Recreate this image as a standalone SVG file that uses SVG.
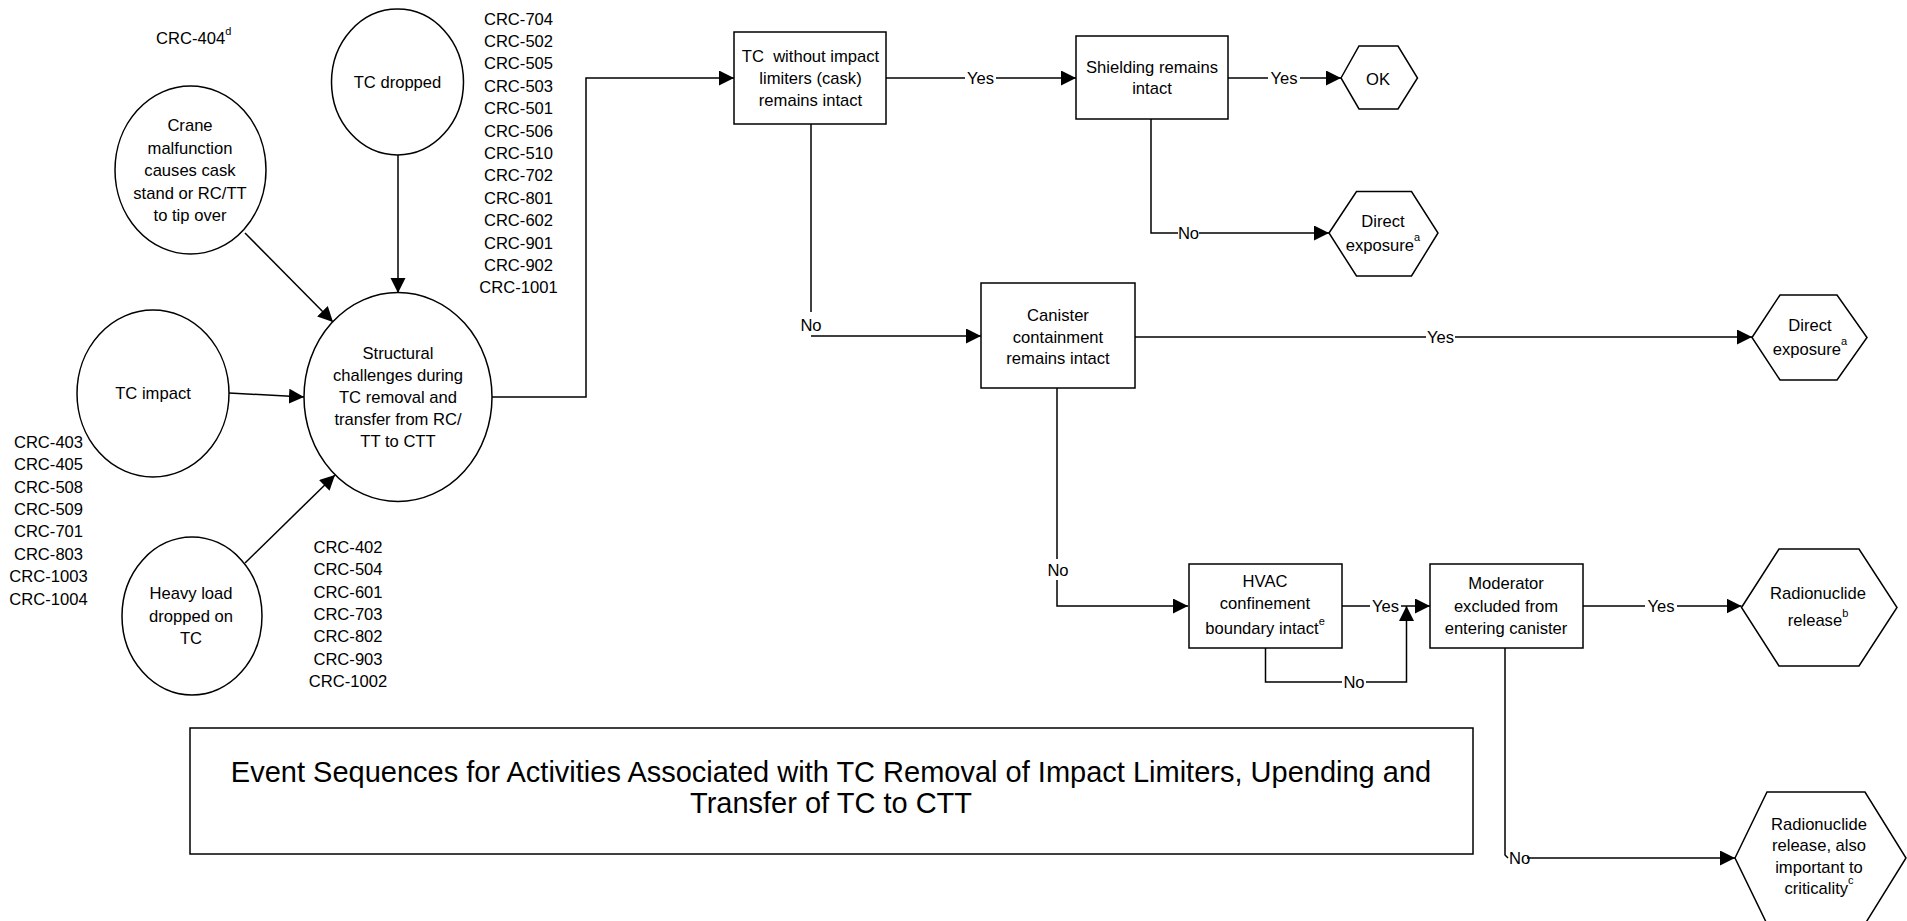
<svg xmlns="http://www.w3.org/2000/svg" width="1907" height="921" viewBox="0 0 1907 921">
  <style>
    text { font-family: "Liberation Sans", Arial, sans-serif; font-size: 16.6px; fill: #000; }
    .c { text-anchor: middle; }
    .sup { font-size: 11px; }
    .shape { fill: #fff; stroke: #000; stroke-width: 1.5; }
    .ln { fill: none; stroke: #000; stroke-width: 1.5; }
    .title { font-size: 29px; }
  </style>
  <defs>
    <marker id="arrow" markerUnits="userSpaceOnUse" markerWidth="16" markerHeight="16" refX="15" refY="7.5" orient="auto">
      <path d="M0,0 L15,7.5 L0,15 z" fill="#000"/>
    </marker>
  </defs>
  <rect width="1907" height="921" fill="#fff"/>

  <!-- reference lists -->
  <g id="crc-lists">
    <text x="156" y="44">CRC-404<tspan class="sup" dy="-9">d</tspan></text>

    <text class="c" x="518.5" y="24.5">CRC-704</text>
    <text class="c" x="518.5" y="46.9">CRC-502</text>
    <text class="c" x="518.5" y="69.3">CRC-505</text>
    <text class="c" x="518.5" y="91.7">CRC-503</text>
    <text class="c" x="518.5" y="114.1">CRC-501</text>
    <text class="c" x="518.5" y="136.5">CRC-506</text>
    <text class="c" x="518.5" y="158.9">CRC-510</text>
    <text class="c" x="518.5" y="181.3">CRC-702</text>
    <text class="c" x="518.5" y="203.7">CRC-801</text>
    <text class="c" x="518.5" y="226.1">CRC-602</text>
    <text class="c" x="518.5" y="248.5">CRC-901</text>
    <text class="c" x="518.5" y="270.9">CRC-902</text>
    <text class="c" x="518.5" y="293.3">CRC-1001</text>

    <text class="c" x="48.5" y="447.7">CRC-403</text>
    <text class="c" x="48.5" y="470.1">CRC-405</text>
    <text class="c" x="48.5" y="492.5">CRC-508</text>
    <text class="c" x="48.5" y="514.9">CRC-509</text>
    <text class="c" x="48.5" y="537.3">CRC-701</text>
    <text class="c" x="48.5" y="559.7">CRC-803</text>
    <text class="c" x="48.5" y="582.1">CRC-1003</text>
    <text class="c" x="48.5" y="604.5">CRC-1004</text>

    <text class="c" x="348" y="552.7">CRC-402</text>
    <text class="c" x="348" y="575.1">CRC-504</text>
    <text class="c" x="348" y="597.5">CRC-601</text>
    <text class="c" x="348" y="619.9">CRC-703</text>
    <text class="c" x="348" y="642.3">CRC-802</text>
    <text class="c" x="348" y="664.7">CRC-903</text>
    <text class="c" x="348" y="687.1">CRC-1002</text>
  </g>

  <!-- connectors -->
  <g id="connectors">
    <line class="ln" x1="245" y1="233" x2="333" y2="322" marker-end="url(#arrow)"/>
    <line class="ln" x1="398" y1="155" x2="398" y2="293" marker-end="url(#arrow)"/>
    <line class="ln" x1="229" y1="393" x2="304" y2="397" marker-end="url(#arrow)"/>
    <line class="ln" x1="245" y1="563" x2="335" y2="475" marker-end="url(#arrow)"/>
    <polyline class="ln" points="492,397 586,397 586,78 734,78" marker-end="url(#arrow)"/>

    <!-- cask intact -->
    <line class="ln" x1="886" y1="78" x2="965" y2="78"/>
    <text class="c" x="980.5" y="84">Yes</text>
    <line class="ln" x1="996" y1="78" x2="1076" y2="78" marker-end="url(#arrow)"/>
    <line class="ln" x1="811" y1="124" x2="811" y2="312"/>
    <text class="c" x="811" y="331">No</text>
    <line class="ln" x1="811" y1="336" x2="981" y2="336" marker-end="url(#arrow)"/>

    <!-- shielding -->
    <line class="ln" x1="1228" y1="78" x2="1268" y2="78"/>
    <text class="c" x="1284" y="84">Yes</text>
    <line class="ln" x1="1300" y1="78" x2="1341" y2="78" marker-end="url(#arrow)"/>
    <polyline class="ln" points="1151,119 1151,233 1178,233"/>
    <text class="c" x="1188.5" y="239">No</text>
    <line class="ln" x1="1199" y1="233" x2="1329" y2="233" marker-end="url(#arrow)"/>

    <!-- canister -->
    <line class="ln" x1="1135" y1="337" x2="1426" y2="337"/>
    <text class="c" x="1440.5" y="343">Yes</text>
    <line class="ln" x1="1455" y1="337" x2="1752" y2="337" marker-end="url(#arrow)"/>
    <line class="ln" x1="1057" y1="388" x2="1057" y2="559"/>
    <text class="c" x="1058" y="576">No</text>
    <polyline class="ln" points="1057,580 1057,606 1188,606" marker-end="url(#arrow)"/>

    <!-- HVAC -->
    <line class="ln" x1="1342" y1="606" x2="1370" y2="606"/>
    <text class="c" x="1385.5" y="612">Yes</text>
    <line class="ln" x1="1401" y1="606" x2="1430" y2="606" marker-end="url(#arrow)"/>
    <polyline class="ln" points="1265.5,648 1265.5,682 1342,682"/>
    <text class="c" x="1354" y="688">No</text>
    <polyline class="ln" points="1366,682 1406.5,682 1406.5,606" marker-end="url(#arrow)"/>

    <!-- moderator -->
    <line class="ln" x1="1583" y1="606" x2="1645" y2="606"/>
    <text class="c" x="1661" y="612">Yes</text>
    <line class="ln" x1="1677" y1="606" x2="1741.5" y2="606" marker-end="url(#arrow)"/>
    <polyline class="ln" points="1505,648 1505,855 1508,858"/>
    <text x="1509" y="864">No</text>
    <line class="ln" x1="1527" y1="858" x2="1735" y2="858" marker-end="url(#arrow)"/>
  </g>

  <!-- initiating events -->
  <g id="crane-malfunction">
    <ellipse class="shape" cx="190.5" cy="170" rx="75.5" ry="84"/>
    <text class="c" x="190" y="131">Crane</text>
    <text class="c" x="190" y="153.5">malfunction</text>
    <text class="c" x="190" y="176">causes cask</text>
    <text class="c" x="190" y="198.5">stand or RC/TT</text>
    <text class="c" x="190" y="221">to tip over</text>
  </g>
  <g id="tc-dropped">
    <ellipse class="shape" cx="397.5" cy="82" rx="66" ry="73"/>
    <text class="c" x="397.5" y="88">TC dropped</text>
  </g>
  <g id="tc-impact">
    <ellipse class="shape" cx="153" cy="393.5" rx="76" ry="83.5"/>
    <text class="c" x="153" y="399">TC impact</text>
  </g>
  <g id="heavy-load">
    <ellipse class="shape" cx="192" cy="616" rx="70" ry="79"/>
    <text class="c" x="191" y="599">Heavy load</text>
    <text class="c" x="191" y="622">dropped on</text>
    <text class="c" x="191" y="644">TC</text>
  </g>
  <g id="structural-challenges">
    <ellipse class="shape" cx="398" cy="397" rx="94" ry="104.5"/>
    <text class="c" x="398" y="359">Structural</text>
    <text class="c" x="398" y="381">challenges during</text>
    <text class="c" x="398" y="403">TC removal and</text>
    <text class="c" x="398" y="425">transfer from RC/</text>
    <text class="c" x="398" y="447">TT to CTT</text>
  </g>

  <!-- pivotal events -->
  <g id="cask-intact">
    <rect class="shape" x="734" y="32" width="152" height="92"/>
    <text class="c" x="810.5" y="62">TC&#160; without impact</text>
    <text class="c" x="810.5" y="83.5">limiters (cask)</text>
    <text class="c" x="810.5" y="106">remains intact</text>
  </g>
  <g id="shielding-intact">
    <rect class="shape" x="1076" y="36" width="152" height="83"/>
    <text class="c" x="1152" y="73">Shielding remains</text>
    <text class="c" x="1152" y="94">intact</text>
  </g>
  <g id="canister-intact">
    <rect class="shape" x="981" y="283" width="154" height="105"/>
    <text class="c" x="1058" y="321">Canister</text>
    <text class="c" x="1058" y="343">containment</text>
    <text class="c" x="1058" y="364">remains intact</text>
  </g>
  <g id="hvac-intact">
    <rect class="shape" x="1189" y="564" width="153" height="84"/>
    <text class="c" x="1265" y="587">HVAC</text>
    <text class="c" x="1265" y="608.5">confinement</text>
    <text class="c" x="1265" y="633.5">boundary intact<tspan class="sup" dy="-9">e</tspan></text>
  </g>
  <g id="moderator-excluded">
    <rect class="shape" x="1430" y="564" width="153" height="84"/>
    <text class="c" x="1506" y="589">Moderator</text>
    <text class="c" x="1506" y="612">excluded from</text>
    <text class="c" x="1506" y="634">entering canister</text>
  </g>

  <!-- end states -->
  <g id="end-ok">
    <polygon class="shape" points="1341,78 1359,46 1398,46 1417.5,78 1398,109 1359,109"/>
    <text class="c" x="1378" y="84.5">OK</text>
  </g>
  <g id="end-direct-exposure-1">
    <polygon class="shape" points="1329,233 1356.5,191.5 1411.5,191.5 1438,233 1411.5,276 1356.5,276"/>
    <text class="c" x="1383" y="226.5">Direct</text>
    <text class="c" x="1383" y="251">exposure<tspan class="sup" dy="-10">a</tspan></text>
  </g>
  <g id="end-direct-exposure-2">
    <polygon class="shape" points="1752,337.5 1780,295 1837,295 1867,337.5 1837,380 1780,380"/>
    <text class="c" x="1810" y="331">Direct</text>
    <text class="c" x="1810" y="355">exposure<tspan class="sup" dy="-10">a</tspan></text>
  </g>
  <g id="end-radionuclide-release">
    <polygon class="shape" points="1741.5,607.5 1779,549 1859,549 1897,607.5 1859,666 1779,666"/>
    <text class="c" x="1818" y="599">Radionuclide</text>
    <text class="c" x="1818" y="626">release<tspan class="sup" dy="-9">b</tspan></text>
  </g>
  <g id="end-radionuclide-criticality">
    <polygon class="shape" points="1735,858 1767,792 1865,792 1906,858 1865,924 1767,924"/>
    <text class="c" x="1819" y="830">Radionuclide</text>
    <text class="c" x="1819" y="851">release, also</text>
    <text class="c" x="1819" y="872.5">important to</text>
    <text class="c" x="1819" y="894">criticality<tspan class="sup" dy="-10">c</tspan></text>
  </g>

  <!-- caption -->
  <g id="caption">
    <rect class="shape" x="190" y="728" width="1283" height="126"/>
    <text class="c title" x="831" y="782">Event Sequences for Activities Associated with TC Removal of Impact Limiters, Upending and</text>
    <text class="c title" x="831" y="813">Transfer of TC to CTT</text>
  </g>
</svg>
